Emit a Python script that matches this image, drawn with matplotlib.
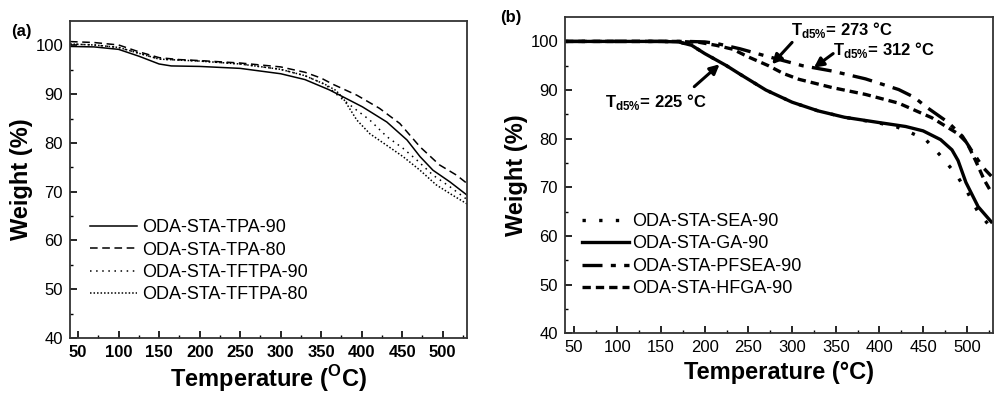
import matplotlib
matplotlib.use('Agg')
import matplotlib.pyplot as plt
import numpy as np

plt.rcParams['font.family'] = ['Liberation Sans', 'DejaVu Sans']
plt.rcParams['mathtext.fontset'] = 'custom'
plt.rcParams['mathtext.rm'] = 'Liberation Sans'
plt.rcParams['mathtext.bf'] = 'Liberation Sans:bold'

# ---- panel (a) data: temperature (C) vs weight (%) ----
tpa90_t = [40, 70, 100, 125, 150, 165, 200, 250, 300, 330, 360, 380, 401, 431, 456, 472, 488, 509, 530]
tpa90_w = [99.8, 99.7, 99.2, 97.8, 96.2, 95.8, 95.7, 95.3, 94.2, 93.0, 90.9, 89.2, 87.4, 84.3, 80.6, 77.2, 74.4, 72.0, 69.3]

tpa80_t = [40, 70, 100, 125, 150, 175, 200, 250, 300, 330, 350, 365, 394, 422, 447, 472, 496, 517, 530]
tpa80_w = [100.8, 100.6, 100.1, 98.7, 97.5, 97.1, 96.9, 96.4, 95.6, 94.5, 93.3, 92.0, 89.8, 87.1, 84.0, 79.2, 75.5, 73.4, 71.7]

tftpa90_t = [40, 70, 100, 125, 150, 200, 250, 300, 330, 355, 373, 394, 410, 431, 451, 468, 488, 509, 530]
tftpa90_w = [100.3, 100.1, 99.6, 98.4, 97.2, 96.8, 96.2, 95.1, 93.8, 92.0, 89.4, 86.7, 84.7, 81.3, 78.9, 76.5, 73.4, 71.0, 68.4]

tftpa80_t = [40, 70, 100, 125, 150, 200, 250, 300, 330, 355, 368, 377, 394, 410, 431, 451, 472, 492, 512, 530]
tftpa80_w = [100.3, 100.1, 99.6, 98.4, 97.2, 96.8, 96.2, 95.1, 93.8, 92.0, 90.8, 89.2, 84.7, 81.9, 79.5, 77.2, 74.4, 71.4, 69.3, 67.5]

# ---- panel (b) data ----
ga_t = [40, 150, 170, 185, 200, 213, 225, 240, 270, 300, 330, 360, 400, 430, 450, 470, 483, 490, 499, 513, 528]
ga_w = [100, 100, 99.9, 99.2, 97.5, 96.2, 95.0, 93.3, 90.0, 87.5, 85.7, 84.4, 83.3, 82.5, 81.6, 79.8, 77.7, 75.5, 71.0, 66.0, 62.9]

sea_t = [40, 150, 170, 185, 200, 213, 225, 240, 270, 300, 330, 360, 400, 420, 435, 453, 471, 488, 501, 512, 528]
sea_w = [100, 100, 99.9, 99.2, 97.5, 96.2, 95.0, 93.3, 90.0, 87.5, 85.7, 84.4, 83.2, 82.4, 81.3, 79.8, 76.3, 72.6, 68.9, 65.2, 61.6]

pfsea_t = [40, 180, 200, 213, 240, 270, 312, 346, 384, 422, 440, 453, 479, 495, 505, 519, 528]
pfsea_w = [100, 100, 99.9, 99.6, 98.5, 97.0, 95.0, 93.9, 92.3, 90.1, 88.5, 86.6, 83.3, 80.5, 77.7, 74.0, 72.3]

hfga_t = [40, 170, 194, 213, 232, 250, 273, 290, 308, 346, 384, 422, 460, 490, 500, 510, 520, 528]
hfga_w = [100, 100, 99.8, 99.2, 98.4, 96.8, 95.0, 93.4, 92.2, 90.5, 89.1, 87.3, 84.3, 81.0, 79.2, 75.5, 71.5, 69.0]

xticks = [50, 100, 150, 200, 250, 300, 350, 400, 450, 500]
yticks = [40, 50, 60, 70, 80, 90, 100]

fig = plt.figure(figsize=(10, 3.98), dpi=100)
ax_a = fig.add_axes([0.070, 0.151, 0.397, 0.796])
ax_b = fig.add_axes([0.565, 0.163, 0.428, 0.794])


def style_axes(ax, bold_x):
    ax.set_xlim(40, 530)
    ax.set_ylim(40, 105)
    ax.set_xticks(xticks)
    ax.set_xticks(np.arange(75, 530, 50), minor=True)
    ax.set_yticks(yticks)
    ax.set_yticks(np.arange(45, 105, 10), minor=True)
    ax.tick_params(which='major', direction='in', length=5, width=1.2, labelsize=12, pad=5)
    ax.tick_params(which='minor', direction='in', length=2.5, width=1.0)
    ax.tick_params(top=False, right=False)
    for lbl in ax.get_xticklabels():
        lbl.set_fontweight('bold' if bold_x else 'normal')
    for s in ax.spines.values():
        s.set_linewidth(1.3)
        s.set_color('#333333')
    ax.set_ylabel('Weight (%)', fontsize=17, fontweight='bold', labelpad=2)


# panel (a)
lw_a = 1.1
ax_a.plot(tpa90_t, tpa90_w, color='black', lw=lw_a, label='ODA-STA-TPA-90')
ax_a.plot(tpa80_t, tpa80_w, color='black', lw=lw_a, ls=(0, (5, 3)), label='ODA-STA-TPA-80')
ax_a.plot(tftpa90_t, tftpa90_w, color='black', lw=lw_a, ls=(0, (1, 3)), label='ODA-STA-TFTPA-90')
ax_a.plot(tftpa80_t, tftpa80_w, color='black', lw=lw_a, ls=(0, (1, 1.3)), label='ODA-STA-TFTPA-80')
style_axes(ax_a, True)
ax_a.set_xlabel(r'Temperature ($^{\mathbf{O}}$C)', fontsize=17, fontweight='bold', labelpad=2)
ax_a.legend(loc='upper left', bbox_to_anchor=(0.05, 0.375), frameon=False, fontsize=13,
            handlelength=2.6, handletextpad=0.3, labelspacing=0.3, borderpad=0, borderaxespad=0)
fig.text(0.021, 0.92, '(a)', fontsize=12, fontweight='bold', ha='center', va='center')

# panel (b)
lw_b = 2.4
ax_b.plot(sea_t, sea_w, color='black', lw=lw_b, ls=(0, (1, 4)), label='ODA-STA-SEA-90')
ax_b.plot(ga_t, ga_w, color='black', lw=lw_b, label='ODA-STA-GA-90')
ax_b.plot(pfsea_t, pfsea_w, color='black', lw=lw_b, ls=(0, (6, 2.5, 1.5, 2.5)), label='ODA-STA-PFSEA-90')
ax_b.plot(hfga_t, hfga_w, color='black', lw=lw_b, ls=(0, (2.5, 1.5)), label='ODA-STA-HFGA-90')
style_axes(ax_b, False)
ax_b.set_xlabel('Temperature (°C)', fontsize=17, fontweight='bold', labelpad=4)
ax_b.legend(loc='upper left', bbox_to_anchor=(0.04, 0.38), frameon=False, fontsize=13,
            handlelength=2.6, handletextpad=0.15, labelspacing=0.3, borderpad=0, borderaxespad=0)
fig.text(0.511, 0.955, '(b)', fontsize=12, fontweight='bold', ha='center', va='center')

arrow = dict(arrowstyle='-|>', color='black', lw=2.2, mutation_scale=14, shrinkA=0, shrinkB=0)
label_kw = dict(fontsize=12, fontweight='bold', ha='left', va='center')
tlabel = r'$\mathbf{T}_{\mathbf{d5\%}}$= {} °C'
ax_b.text(299, 102.4, tlabel.replace('{}', '273'), **label_kw)
ax_b.annotate('', xy=(277, 95.3), xytext=(300, 99.8), arrowprops=arrow)
ax_b.text(347, 98.2, tlabel.replace('{}', '312'), **label_kw)
ax_b.annotate('', xy=(325, 94.6), xytext=(347, 97.5), arrowprops=arrow)
ax_b.text(86, 87.6, tlabel.replace('{}', '225'), **label_kw)
ax_b.annotate('', xy=(217, 95.3), xytext=(188, 90.7), arrowprops=arrow)

fig.savefig('out.png', dpi=100)
